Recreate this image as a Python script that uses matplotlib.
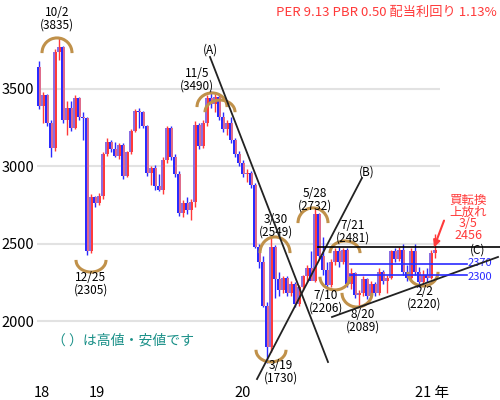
import numpy as np
import matplotlib.pyplot as plt
from matplotlib.patches import Arc

plt.rcParams['font.family'] = ['Noto Sans CJK JP', 'DejaVu Sans']

# weekly candles
opens = [3640, 3390, 3460, 3280, 3120, 3740, 3770, 3300, 3380, 3250,
         3440, 3320, 3310, 2450, 2800, 2760, 2810, 3080, 3160, 3110,
         3070, 3140, 2940, 3090, 3230, 3360, 3350, 3260, 2960, 2990,
         2870, 2850, 3040, 3250, 3060, 2950, 2700, 2760, 2720, 2770,
         3270, 3130, 3280, 3440, 3400, 3450, 3320, 3240, 3280, 3170,
         3080, 3020, 2950, 2960, 2880, 2480, 2380, 2100, 1830, 2480,
         2270, 2200, 2280, 2180, 2240, 2110, 2220, 2290, 2340, 2260,
         2690, 2420, 2330, 2230, 2380, 2450, 2380, 2460, 2240, 2310,
         2170, 2180, 2270, 2160, 2240, 2180, 2320, 2260, 2280, 2450,
         2400, 2460, 2320, 2280, 2450, 2320, 2250, 2300, 2280, 2440]
highs = [3680, 3480, 3470, 3300, 3760, 3835, 3780, 3420, 3420, 3460,
         3450, 3350, 3320, 2820, 2810, 2830, 3090, 3180, 3170, 3160,
         3150, 3150, 3100, 3240, 3370, 3380, 3360, 3270, 3000, 3010,
         2950, 3060, 3260, 3260, 3080, 2970, 2780, 2800, 2790, 3290,
         3280, 3300, 3460, 3490, 3470, 3460, 3350, 3300, 3320, 3180,
         3100, 3040, 2980, 2970, 2890, 2500, 2420, 2120, 2549, 2490,
         2320, 2290, 2290, 2260, 2250, 2230, 2300, 2360, 2450, 2732,
         2700, 2540, 2380, 2400, 2470, 2481, 2470, 2470, 2340, 2320,
         2200, 2290, 2280, 2260, 2250, 2340, 2330, 2300, 2460, 2470,
         2480, 2500, 2360, 2470, 2500, 2350, 2330, 2340, 2460, 2560]
lows = [3370, 3280, 3260, 3060, 3100, 3690, 3280, 3200, 3230, 3240,
        3300, 3170, 2430, 2440, 2740, 2750, 2790, 3070, 3090, 3060,
        3050, 2920, 2930, 3080, 3220, 3250, 3250, 2940, 2880, 2850,
        2840, 2820, 3020, 3040, 2930, 2680, 2670, 2690, 2650, 2740,
        3110, 3120, 3260, 3380, 3350, 3300, 3220, 3200, 3150, 3060,
        3000, 2930, 2900, 2860, 2470, 2340, 2090, 1730, 1800, 2150,
        2160, 2180, 2160, 2160, 2090, 2100, 2200, 2250, 2320, 2250,
        2400, 2300, 2206, 2220, 2360, 2350, 2370, 2220, 2210, 2150,
        2089, 2160, 2140, 2150, 2160, 2170, 2240, 2180, 2270, 2380,
        2390, 2300, 2260, 2270, 2300, 2220, 2240, 2250, 2270, 2410]
closes = [3390, 3460, 3280, 3120, 3740, 3770, 3300, 3380, 3250, 3440,
          3320, 3310, 2450, 2800, 2760, 2810, 3080, 3160, 3110, 3070,
          3140, 2940, 3090, 3230, 3360, 3350, 3260, 2960, 2990, 2870,
          2850, 3040, 3250, 3060, 2950, 2700, 2760, 2720, 2770, 3270,
          3130, 3280, 3440, 3400, 3450, 3320, 3240, 3280, 3170, 3080,
          3020, 2950, 2960, 2880, 2480, 2380, 2100, 1830, 2480, 2270,
          2200, 2280, 2180, 2240, 2110, 2220, 2290, 2340, 2260, 2690,
          2420, 2330, 2230, 2380, 2450, 2380, 2460, 2240, 2310, 2170,
          2180, 2270, 2160, 2240, 2180, 2320, 2260, 2280, 2450, 2400,
          2460, 2320, 2280, 2450, 2320, 2250, 2300, 2280, 2440, 2456]

year_pos = [0.75, 14.5, 51, 98.25]
year_labels = ['18', '19', '20', '21 年']
price_ticks = [2000, 2500, 3000, 3500]

# (date, price) labels with arc marks: index, label y, arc y, arc height, up/down
marks = [
    ('10/2', '3835', 4.5, 3956, 3733, 194, 'top'),
    ('12/25', '2305', 13, 2243, 2394, 155, 'bottom'),
    ('11/5', '3490', 39.5, 3561, 3384, 181, 'top'),
    ('3/19', '1730', 60.5, 1670, 1813, 155, 'bottom'),
    ('3/30', '2549', 59.25, 2614, 2440, 207, 'top'),
    ('5/28', '2732', 69, 2786, 2634, 194, 'top'),
    ('7/10', '2206', 71.75, 2126, 2285, 168, 'bottom'),
    ('7/21', '2481', 78.5, 2575, 2440, 155, 'top'),
    ('8/20', '2089', 81, 2003, 2181, 181, 'bottom'),
    ('2/2', '2220', 96.25, 2149, 2317, 181, 'bottom'),
]
arc_x = [4.5, 13, 43.25, 58, 59, 68.5, 74, 76.5, 79.5, 96]
extra_arc = (45.25, 3351, 155)  # second arc at 11/5

# trend lines
line_A = [(42.75, 3707), (72.25, 1735)]
line_B = [(54.5, 1625), (80.75, 2925)]
line_C = [(73.25, 2026), (114.75, 2414)]
resist = 2481
supports = [2370, 2300]
support_label_y = [2377, 2283]

o = np.array(opens)
h = np.array(highs)
l = np.array(lows)
c = np.array(closes)
x = np.arange(len(c))
up = c >= o

fig = plt.figure(figsize=(5, 4), dpi=100)
ax = fig.add_axes([37/500, 25/400, 403/500, 355/400])
ax.set_xlim(-0.5, 100.25)
ax.set_ylim(1651, 3946)

for p in price_ticks:
    ax.axhline(p, color='#e2e2e2', lw=1.5, zorder=0)

red = '#ff3a3a'
blue = '#2a2aff'
body_col = np.where(up, red, blue)
ax.vlines(x, l, h, colors=body_col, lw=1, zorder=2)
ax.bar(x, c - o, bottom=o, width=1.0, color=body_col, zorder=3)
# the shaded side stripe of each candle
stripe_col = np.where(up, '#7777ff', '#ff7777')
ax.bar(x + np.where(up, -0.3, 0.3), c - o, bottom=o, width=0.38,
       color=stripe_col, alpha=0.85, zorder=4)

# arcs and labels
arc_col = '#c0914a'
for (d, v, lx, ly, ay, ah, side), axx in zip(marks, arc_x):
    if side == 'top':
        ax.add_patch(Arc((axx, ay), 7.5, ah, theta1=-15, theta2=195,
                         color=arc_col, lw=2.2, zorder=5))
    else:
        ax.add_patch(Arc((axx, ay), 7.5, ah, theta1=165, theta2=375,
                         color=arc_col, lw=2.2, zorder=5))
    ax.text(lx, ly, d + '\n(' + v + ')', ha='center', va='center',
            fontsize=8.5, linespacing=0.95, zorder=6)
ax.add_patch(Arc(extra_arc[:2], 7.5, extra_arc[2], theta1=-15, theta2=195,
                 color=arc_col, lw=2.2, zorder=5))

for pts, name, pos in [(line_A, '(A)', (42.75, 3752)),
                       (line_B, '(B)', (82, 2963)),
                       (line_C, '(C)', (109.75, 2462))]:
    ax.plot([pts[0][0], pts[1][0]], [pts[0][1], pts[1][1]], color='#222222',
            lw=1.3, clip_on=False, zorder=6)
    ax.text(pos[0], pos[1], name, ha='center', va='center', fontsize=8.5)

ax.plot([69.75, 115.25], [resist, resist], color='black', lw=1.2,
        clip_on=False, zorder=6)
for s, sy in zip(supports, support_label_y):
    ax.plot([77.75, 107], [s, s], color=blue, lw=1.2, clip_on=False, zorder=6)
    ax.text(107.2, sy, str(s), color=blue, ha='left', va='center',
            fontsize=8)

ax.annotate('', xy=(98.5, 2459), xytext=(101.5, 2666),
            arrowprops=dict(arrowstyle='-|>', color=red, lw=1.5), zorder=7)
ax.text(107.25, 2666, '買転換\n上放れ\n3/5\n2456', color=red, ha='center',
        va='center', fontsize=9, linespacing=0.9)

ax.text(21, 1877, '（ ）は高値・安値です', color='#1a9088', ha='center',
        va='center', fontsize=10)
fig.text(0.994, 0.97, 'PER 9.13 PBR 0.50 配当利回り 1.13%', color=red,
         ha='right', va='center', fontsize=9.5)

ax.set_xticks(year_pos)
ax.set_xticklabels(year_labels, fontsize=10.5)
ax.set_yticks(price_ticks)
ax.set_yticklabels([str(p) for p in price_ticks], fontsize=10.5)
ax.tick_params(length=0, pad=2)
ax.tick_params(axis='x', pad=8)
for sp in ax.spines.values():
    sp.set_visible(False)

fig.savefig('out.png', dpi=100)
